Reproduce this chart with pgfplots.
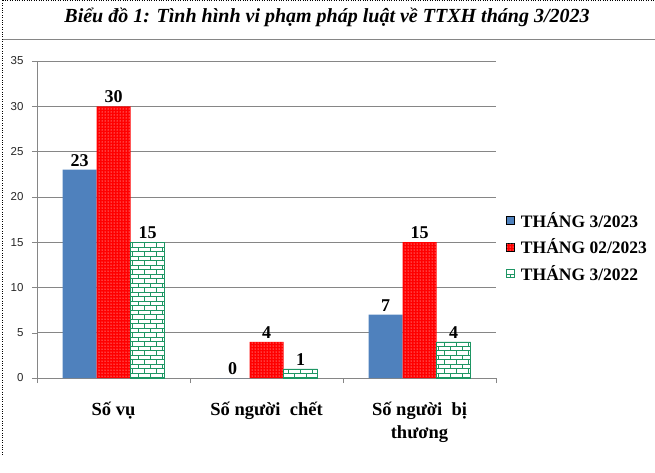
\documentclass[border=0pt]{standalone}
\usepackage{fontspec}
\setmainfont{Liberation Serif}
\newfontfamily\sansf{Liberation Sans}
\usepackage{pgfplots}
\pgfplotsset{compat=1.18}
\usetikzlibrary{patterns}
\definecolor{barblue}{RGB}{79,129,189}
\definecolor{bargreen}{RGB}{30,150,100}
\definecolor{gridgray}{RGB}{134,134,134}
\pgfdeclarepatternformonly{mybricks}{\pgfpoint{-0.5pt}{-0.5pt}}{\pgfpoint{12.5pt}{9.5pt}}{\pgfpoint{12pt}{9pt}}{%
  \pgfsetlinewidth{0.8pt}%
  \pgfpathmoveto{\pgfpoint{0pt}{0pt}}\pgfpathlineto{\pgfpoint{12pt}{0pt}}%
  \pgfpathmoveto{\pgfpoint{0pt}{4.5pt}}\pgfpathlineto{\pgfpoint{12pt}{4.5pt}}%
  \pgfpathmoveto{\pgfpoint{0pt}{0pt}}\pgfpathlineto{\pgfpoint{0pt}{4.5pt}}%
  \pgfpathmoveto{\pgfpoint{6pt}{4.5pt}}\pgfpathlineto{\pgfpoint{6pt}{9pt}}%
  \pgfusepath{stroke}}
\pgfplotstableread{
x a b c
0 23 30 15
1 0 4 1
2 7 15 4
}\data
\begin{document}
\begin{tikzpicture}[x=1pt,y=1pt]
\useasboundingbox (0,0) rectangle (655,472);
\draw[dotted] (2.5,471.5) -- (2.5,16);
\draw[dotted] (2.5,471.5) -- (655,471.5);
\draw[gridgray, line width=1pt] (3,432) -- (655,432);
\node[font=\bfseries\itshape\fontsize{20}{23}\selectfont] at (327,455) {Biểu đồ 1: Tình hình vi phạm pháp luật về TTXH tháng 3/2023};
\begin{axis}[
  at={(37pt,94pt)}, anchor=south west,
  scale only axis, width=459pt, height=317pt,
  ybar=0pt, bar width=34pt,
  xmin=-0.5, xmax=2.5, ymin=0, ymax=35,
  ytick={0,5,...,35},
  xtick={-0.5,0.5,1.5,2.5}, xticklabels={},
  extra x ticks={0,1,2},
  extra x tick labels={Số vụ, Số người\ \ chết, Số người\ \ bị\\thương},
  extra x tick style={major tick length=0pt, grid=none,
    xticklabel style={font=\bfseries\fontsize{18.5}{23}\selectfont, align=center, yshift=-21pt}},
  axis lines*=left,
  axis line style={gridgray},
  tick align=outside, major tick length=5pt,
  tick style={gridgray},
  ymajorgrids, grid style={gridgray, line width=0.6pt},
  /pgf/number format/assume math mode=true,
  yticklabel style={font=\sansf\fontsize{11.5}{13}\selectfont, xshift=-5pt, text=black!85},
  nodes near coords,
  every node near coord/.append style={font=\bfseries\fontsize{18}{20}\selectfont, black, inner sep=3pt},
  legend style={at={(1.015,0.413)}, anchor=west, draw=none, fill=none,
    font=\bfseries\fontsize{17.5}{20}\selectfont, row sep=7pt, legend cell align=left,
    nodes={inner sep=1.5pt}, /tikz/every odd column/.append style={column sep=5pt}},
  legend image code/.code={\draw[#1] (0pt,-4pt) rectangle (8pt,4pt);},
]
\addplot[fill=barblue, draw=none] table[x=x,y=a]{\data};
\addplot[fill=red, draw=none, postaction={pattern=dots, pattern color=white}] table[x=x,y=b]{\data};
\addplot[fill=white, draw=bargreen, postaction={pattern=mybricks, pattern color=bargreen}] table[x=x,y=c]{\data};
\legend{THÁNG 3/2023, THÁNG 02/2023, THÁNG 3/2022}
\end{axis}
\end{tikzpicture}
\end{document}
